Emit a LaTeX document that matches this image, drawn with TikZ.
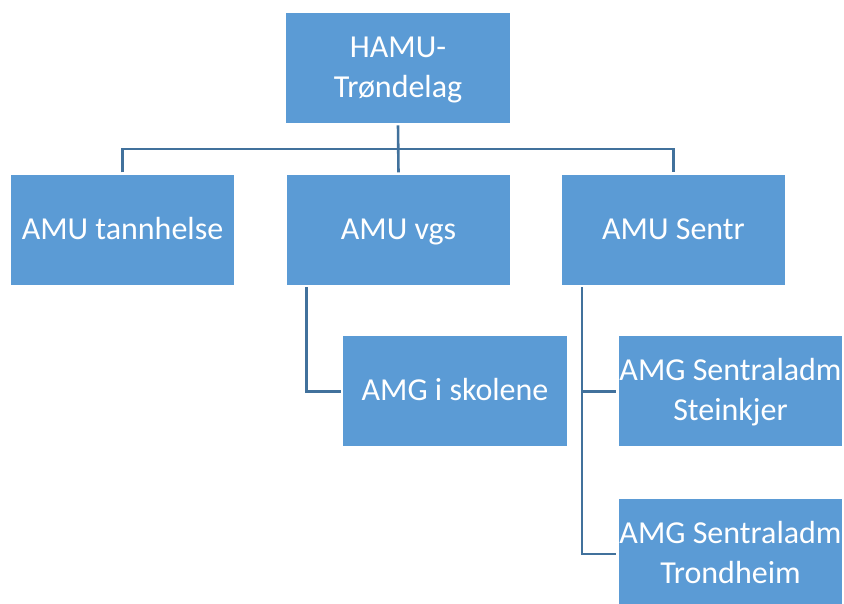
\documentclass[tikz,border=0pt]{standalone}
\usepackage{fontspec}
\setmainfont{Carlito}
\definecolor{boxfill}{HTML}{5B9BD5}
\definecolor{linecol}{HTML}{41719C}
\newcommand\boxstrut{\rule[-10pt]{0pt}{39pt}}
\begin{document}
\begin{tikzpicture}[x=1pt,y=-1pt,
  orgbox/.style={rectangle, fill=boxfill, draw=white, line width=0.8pt,
    minimum width=224.5pt, minimum height=111pt, inner sep=0pt,
    text=white, align=center, font=\fontsize{32}{35}\selectfont},
  conn/.style={draw=linecol, line width=2.6pt, shorten <=1.5pt, shorten >=1.5pt}]
\useasboundingbox (0,0) rectangle (844,603);
\begin{scope}
\clip (0,0) rectangle (844,603);
% boxes
\node[orgbox] (hamu) at (398,68) {\boxstrut HAMU-\\Trøndelag\boxstrut};
\node[orgbox] (tann) at (122.5,229.8) {\boxstrut AMU tannhelse};
\node[orgbox] (vgs) at (398.5,229.8) {\boxstrut AMU vgs};
\node[orgbox] (sentr) at (673.5,229.8) {\boxstrut AMU Sentr};
\node[orgbox] (skol) at (455,391.3) {\boxstrut AMG i skolene};
\node[orgbox] (stein) at (730.5,391.3) {\boxstrut AMG Sentraladm\\Steinkjer\boxstrut};
\node[orgbox] (trond) at (730.5,553.8) {\boxstrut AMG Sentraladm\\Trondheim\boxstrut};
% connectors
\coordinate (bus) at (398,149);
\coordinate (vgsdrop) at ([xshift=20.7pt]vgs.south west);
\coordinate (sentrdrop) at ([xshift=21.2pt]sentr.south west);
\draw[conn] (hamu.south) -- (vgs.north);
\draw[conn] (tann.north) |- (bus) -| (sentr.north);
\draw[conn] (vgsdrop) |- (skol.west);
\draw[conn] (sentrdrop) |- (trond.west);
\draw[conn, shorten <=0pt] (sentrdrop |- stein.west) -- (stein.west);
\end{scope}
\end{tikzpicture}
\end{document}
